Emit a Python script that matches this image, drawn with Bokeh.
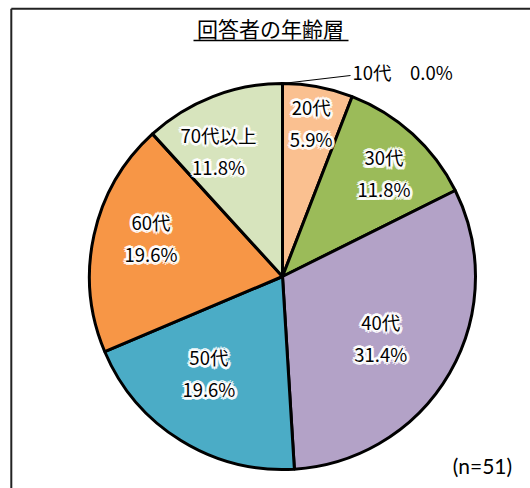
import math
from bokeh.plotting import figure
from bokeh.models import Range1d, ColumnDataSource
from bokeh.core.properties import value
from bokeh.embed import file_html
from bokeh.resources import INLINE

# ---- data ----
categories = ["10代", "20代", "30代", "40代", "50代", "60代", "70代以上"]
counts = [0, 3, 6, 16, 10, 10, 6]
percents = [0.0, 5.9, 11.8, 31.4, 19.6, 19.6, 11.8]
colors = ["#4F81BD", "#FAC090", "#9BBB59", "#B3A2C7", "#4BACC6", "#F79646", "#D7E4BD"]
title_text = "回答者の年齢層"
n_text = "(n=51)"

# ---- layout ----
W, H = 530, 488
cx, cy, r = 282, 212, 193
label_frac = [1.0, 0.81, 0.75, 0.60, 0.63, 0.71, 0.73]
label_turn = [0, 0.0, 2.2, 2.0, 5.5, 4.0, -5.8]   # degrees, label placement tweak
JP = "Noto Sans CJK JP"
LBL = "18.5px"

p = figure(width=W, height=H, output_backend="svg", toolbar_location=None,
           x_range=Range1d(0, W), y_range=Range1d(0, H), min_border=0)
p.axis.visible = False
p.grid.visible = False
p.outline_line_color = None
p.background_fill_color = "white"

# frame (top and left edges visible)
p.line([10.8, W], [479.8, 479.8], line_color="#222222", line_width=2)
p.line([10.8, 10.8], [0, 479.8], line_color="#222222", line_width=2)

total = sum(counts)
starts, ends, mids = [], [], []
acc = 0
for c in counts:
    a0 = acc / total
    acc += c
    a1 = acc / total
    starts.append(math.pi / 2 - a1 * 2 * math.pi)
    ends.append(math.pi / 2 - a0 * 2 * math.pi)
    mids.append((a0 + a1) / 2 * 2 * math.pi)

idx = [i for i, c in enumerate(counts) if c > 0]
src = ColumnDataSource(dict(
    start=[starts[i] for i in idx], end=[ends[i] for i in idx],
    color=[colors[i] for i in idx]))
p.wedge(x=cx, y=cy, radius=r, start_angle="start", end_angle="end",
        fill_color="color", line_color="black", line_width=3, source=src)

# labels with white halo
def halo_text(x, y, t, size, align="center", font=JP):
    offs = [(-1.5, 0), (1.5, 0), (0, -1.5), (0, 1.5), (-1.5, -1.5), (1.5, 1.5), (-1.5, 1.5), (1.5, -1.5),
            (-3, 0), (3, 0), (0, -3), (0, 3), (-2.2, -2.2), (2.2, 2.2), (-2.2, 2.2), (2.2, -2.2)]
    for dx, dy in offs:
        p.text(x=[x], y=[y], text=[t], x_offset=dx, y_offset=dy, text_color="white",
               text_font=value(font), text_font_size=size, text_align=align,
               text_baseline="middle", text_alpha=0.8)
    p.text(x=[x], y=[y], text=[t], text_color="black", text_font=value(font),
           text_font_size=size, text_align=align, text_baseline="middle")

for i, cat in enumerate(categories):
    th = mids[i]
    if counts[i] == 0:
        ex, ey = cx + r * math.sin(th), cy + r * math.cos(th)
        lx, ly = ex + 70, ey + 12
        p.line([ex, lx - 2], [ey, ly - 4], line_color="black", line_width=1)
        p.text(x=[lx], y=[ly], text=[f"{cat}\u3000{percents[i]:.1f}%"], text_color="black",
               text_font=value(JP), text_font_size=LBL, text_align="left",
               text_baseline="middle")
        continue
    f = label_frac[i]
    a = th + math.radians(label_turn[i])
    lx = cx + f * r * math.sin(a)
    ly = cy + f * r * math.cos(a)
    halo_text(lx, ly + 16, cat, LBL)
    halo_text(lx, ly - 16, f"{percents[i]:.1f}%", LBL)

# title with underline
p.text(x=[270], y=[461], text=[title_text], text_color="black", text_font=value(JP),
       text_font_size="21px", text_align="center", text_baseline="middle")
p.line([193, 348], [448, 448], line_color="black", line_width=1.5)

# n label
p.text(x=[482], y=[23], text=[n_text], text_color="black", text_font=value("Lato"),
       text_font_size="21px", text_align="center", text_baseline="middle")

open("out.html", "w").write(file_html(p, INLINE))
